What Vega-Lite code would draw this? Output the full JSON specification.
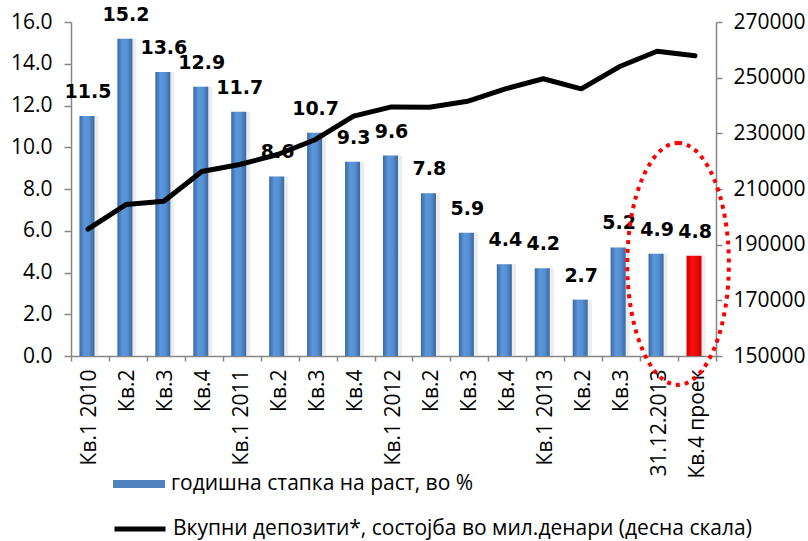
{
  "$schema": "https://vega.github.io/schema/vega-lite/v6.json",
  "width": 645,
  "height": 334,
  "autosize": "none",
  "padding": {"left": 71, "top": 22, "right": 92, "bottom": 185},
  "background": "white",
  "config": {
    "view": {"stroke": null},
    "font": "Open Sans",
    "axis": {
      "labelFont": "Open Sans",
      "labelFontSize": 21,
      "labelColor": "#000000",
      "domainColor": "#868686",
      "tickColor": "#868686",
      "domainWidth": 1.5,
      "tickWidth": 1.5,
      "grid": false,
      "title": null
    },
    "legend": {"labelFont": "Open Sans", "labelFontSize": 21, "labelColor": "#000000", "padding": 0, "labelLimit": 800}
  },
  "data": {
    "values": [
      {"id": "01", "label": "Кв.1 2010", "growth": 11.5, "deposits": 195600},
      {"id": "02", "label": "Кв.2", "growth": 15.2, "deposits": 204400},
      {"id": "03", "label": "Кв.3", "growth": 13.6, "deposits": 205600},
      {"id": "04", "label": "Кв.4", "growth": 12.9, "deposits": 216300},
      {"id": "05", "label": "Кв.1 2011", "growth": 11.7, "deposits": 218800},
      {"id": "06", "label": "Кв.2", "growth": 8.6, "deposits": 222400},
      {"id": "07", "label": "Кв.3", "growth": 10.7, "deposits": 227800},
      {"id": "08", "label": "Кв.4", "growth": 9.3, "deposits": 236200},
      {"id": "09", "label": "Кв.1 2012", "growth": 9.6, "deposits": 239500},
      {"id": "10", "label": "Кв.2", "growth": 7.8, "deposits": 239400},
      {"id": "11", "label": "Кв.3", "growth": 5.9, "deposits": 241500},
      {"id": "12", "label": "Кв.4", "growth": 4.4, "deposits": 246000},
      {"id": "13", "label": "Кв.1 2013", "growth": 4.2, "deposits": 249600},
      {"id": "14", "label": "Кв.2", "growth": 2.7, "deposits": 246000},
      {"id": "15", "label": "Кв.3", "growth": 5.2, "deposits": 253900},
      {"id": "16", "label": "31.12.2013", "growth": 4.9, "deposits": 259500},
      {"id": "17", "label": "Кв.4 проек", "growth": 4.8, "deposits": 257900}
    ]
  },
  "encoding": {
    "x": {
      "field": "id",
      "type": "ordinal",
      "sort": null,
      "scale": {"paddingInner": 0, "paddingOuter": 0},
      "axis": {
        "labelAngle": -90,
        "labelAlign": "right",
        "labelBaseline": "middle",
        "labelPadding": 8,
        "tickSize": 5,
        "tickBand": "extent",
        "labelExpr": "['Кв.1 2010','Кв.2','Кв.3','Кв.4','Кв.1 2011','Кв.2','Кв.3','Кв.4','Кв.1 2012','Кв.2','Кв.3','Кв.4','Кв.1 2013','Кв.2','Кв.3','31.12.2013','Кв.4 проек'][toNumber(datum.value)-1]"
      }
    }
  },
  "layer": [
    {
      "encoding": {
        "y": {
          "field": "growth",
          "type": "quantitative",
          "scale": {"domain": [0, 16], "nice": false, "zero": true},
          "axis": {"orient": "left", "values": [0, 2, 4, 6, 8, 10, 12, 14, 16], "format": ".1f", "tickSize": 7, "labelPadding": 12}
        }
      },
      "layer": [
        {
          "mark": {"type": "bar", "size": 19, "xOffset": -1, "fill": "#d9d9d9", "opacity": 0.5}
        },
        {
          "mark": {"type": "bar", "size": 15, "xOffset": -3},
          "encoding": {
            "fill": {
              "condition": {
                "test": "datum.id === '17'",
                "value": {"gradient": "linear", "x1": 0, "y1": 0, "x2": 1, "y2": 0, "stops": [{"offset": 0, "color": "#d40000"}, {"offset": 0.4, "color": "#ff1010"}, {"offset": 1, "color": "#cc0000"}]}
              },
              "value": {"gradient": "linear", "x1": 0, "y1": 0, "x2": 1, "y2": 0, "stops": [{"offset": 0, "color": "#3a69a4"}, {"offset": 0.35, "color": "#5c97db"}, {"offset": 0.65, "color": "#5590d3"}, {"offset": 1, "color": "#3a67a1"}]}
            }
          }
        },
        {
          "mark": {"type": "text", "font": "DejaVu Sans", "fontWeight": "bold", "fontSize": 19, "baseline": "alphabetic", "dy": -18, "xOffset": -2, "color": "#000000"},
          "encoding": {"text": {"field": "growth", "type": "quantitative", "format": ".1f"}}
        },
        {
          "data": {"values": [{"id": "16", "level": 4.41}]},
          "mark": {
            "type": "point",
            "shape": "M0,-1C0.2264,-1 0.42,-0.5523 0.42,0C0.42,0.5523 0.2264,1 0,1C-0.2264,1 -0.42,0.5523 -0.42,0C-0.42,-0.5523 -0.2264,-1 0,-1Z",
            "size": 58564,
            "filled": false,
            "stroke": "#ff0000",
            "strokeWidth": 4,
            "strokeDash": [4, 5],
            "opacity": 1,
            "xOffset": 19
          },
          "encoding": {
            "x": {"field": "id", "type": "ordinal", "sort": null},
            "y": {"field": "level", "type": "quantitative"}
          }
        },
        {
          "transform": [{"filter": "false"}],
          "mark": {"type": "square"},
          "encoding": {
            "y": {"field": "growth", "type": "quantitative"},
            "color": {
              "datum": "годишна стапка на раст, во %",
              "scale": {"range": ["#4f81bd"]},
              "legend": {
                "orient": "none",
                "legendX": 41,
                "legendY": 435,
                "title": null,
                "symbolType": "M-1,-0.15L1,-0.15L1,0.15L-1,0.15Z",
                "symbolSize": 2704,
                "symbolOpacity": 1,
                "labelOffset": 5
              }
            }
          }
        }
      ]
    },
    {
      "mark": {"type": "line", "strokeWidth": 5, "strokeJoin": "round", "strokeCap": "round", "xOffset": -2},
      "encoding": {
        "y": {
          "field": "deposits",
          "type": "quantitative",
          "scale": {"domain": [150000, 270000], "nice": false, "zero": false},
          "axis": {"orient": "right", "values": [150000, 170000, 190000, 210000, 230000, 250000, 270000], "format": "d", "tickSize": 6, "labelPadding": 11}
        },
        "color": {
          "datum": "Вкупни депозити*, состојба во мил.денари (десна скала)",
          "scale": {"range": ["#000000"]},
          "legend": {
            "orient": "none",
            "legendX": 41,
            "legendY": 479,
            "title": null,
            "symbolType": "stroke",
            "symbolSize": 2601,
            "symbolStrokeWidth": 5,
            "labelOffset": 5
          }
        }
      }
    }
  ],
  "resolve": {"scale": {"y": "independent", "color": "independent"}}
}
